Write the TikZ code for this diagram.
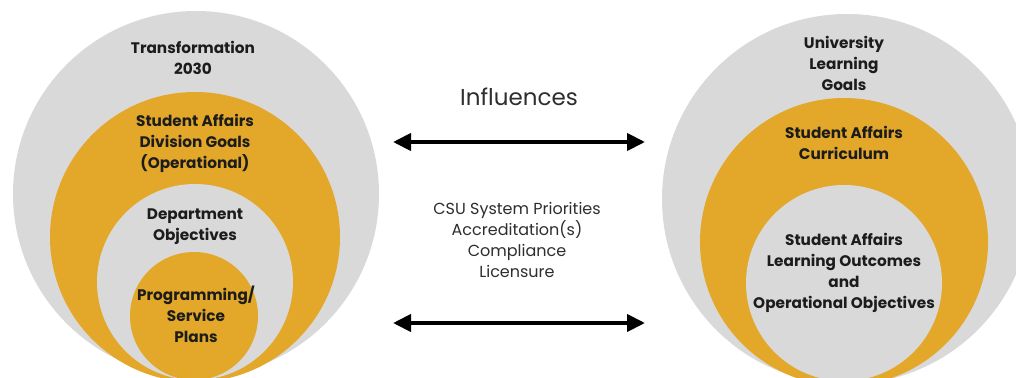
\documentclass[tikz,border=0pt]{standalone}
\usepackage{fontspec}
\setmainfont{Poppins}
\usetikzlibrary{arrows.meta}
\definecolor{ringgray}{HTML}{D9D9D9}
\definecolor{ringgold}{HTML}{E3A829}
\definecolor{inkdark}{HTML}{1C1C1C}
\definecolor{inkmid}{HTML}{2E2E2E}
\begin{document}
\begin{tikzpicture}[x=1pt,y=-1pt,
  disc/.style={fill=#1,draw=none},
  lbl/.style={align=center,text=inkdark,font=\fontsize{15.3}{21}\selectfont\bfseries,inner sep=0pt},
  midlbl/.style={align=center,text=inkmid,font=\fontsize{16}{21.3}\selectfont,inner sep=0pt},
  twoway/.style={line width=4pt,draw=black,
    {Triangle[length=18pt,width=17pt]}-{Triangle[length=18pt,width=17pt]}}]
\useasboundingbox (0,0) rectangle (1016,377);
\fill[white] (0,0) rectangle (1016,377);
\begin{scope}
\clip (0,0) rectangle (1016,377);
% left nest of circles
\fill[disc=ringgray] (196,194) circle (183);
\fill[disc=ringgold] (195,237) circle (145);
\fill[disc=ringgray] (195,282) circle (98);
\fill[disc=ringgold] (194,316) circle (64);
% right nest of circles
\fill[disc=ringgray] (847,199) circle (185);
\fill[disc=ringgold] (844,242) circle (144);
\fill[disc=ringgray] (844,283) circle (98);
\end{scope}

% left labels
\node[lbl] (t2030) at (193,57.5) {Transformation\\2030};
\node[lbl] (sadiv) at (195,143) {Student Affairs\\Division Goals\\(Operational)};
\node[lbl] (dept) at (195,227) {Department\\Objectives};
\node[lbl] (prog) at (196,314) {Programming/\\Service\\Plans};

% right labels
\node[lbl] (ulg) at (844,63) {University\\Learning\\Goals};
\node[lbl] (sacur) at (844,142.5) {Student Affairs\\Curriculum};
\node[lbl] (salo) at (844,273) {Student Affairs\\Learning Outcomes\\and\\Operational Objectives};

% middle
\node[midlbl,font=\fontsize{23}{27}\selectfont] (infl) at (519,97) {Influences};
\node[midlbl] (ext) at (517,240) {CSU System Priorities\\Accreditation(s)\\Compliance\\Licensure};

\coordinate (a1l) at (393,142);
\coordinate (a1r) at (645,142);
\coordinate (a2l) at (393,323);
\coordinate (a2r) at (645,323);
\draw[twoway] (a1l) -- (a1r);
\draw[twoway] (a2l) -- (a2r);
\end{tikzpicture}
\end{document}
